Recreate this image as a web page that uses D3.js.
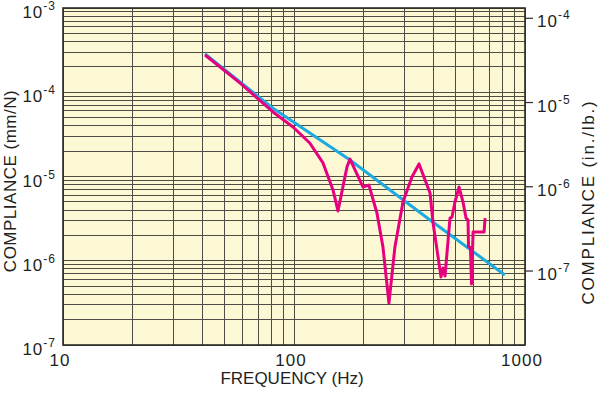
<!DOCTYPE html>
<html>
<head>
<meta charset="utf-8">
<script src="https://cdn.jsdelivr.net/npm/d3@7"></script>
<style>
  body { margin: 0; background: #fff; }
  text { font-family: "Liberation Sans", Arial, sans-serif; fill: #231f20; }
</style>
</head>
<body>
<svg class="chart"></svg>
<script>
// measured response (magenta)
var measFreq = [41.2, 58.3, 81.1, 99, 117, 133.5, 147.5, 155, 169.6, 174.8, 199, 211, 228.6, 242.7,
                257.6, 273.5, 296.3, 324, 347.7, 388, 400, 432.9, 441.6, 450.6, 473.5, 483, 497.6,
                518, 539, 555.6, 566.7, 569.6, 580.7, 586.6, 596, 665, 671.6];
var measComp = [2.77e-4, 1.29e-4, 5.83e-5, 3.87e-5, 2.50e-5, 1.45e-5, 6.92e-6, 3.90e-6, 1.30e-5, 1.61e-5,
                7.5e-6, 7.9e-6, 3.69e-6, 1.46e-6, 3.15e-7, 1.46e-6, 4.98e-6, 9.86e-6, 1.41e-5, 6.37e-6,
                2.81e-6, 6.41e-7, 8.2e-7, 6.59e-7, 3.21e-6, 3.30e-6, 4.98e-6, 7.5e-6, 4.98e-6, 3.21e-6,
                3.05e-6, 1.46e-6, 1.43e-6, 5.3e-7, 2.19e-6, 2.19e-6, 3.21e-6];

// ideal mass line (blue)
var massFreq = [41.2, 81.1, 174.8, 388, 818];
var massComp = [2.85e-4, 6.45e-5, 1.57e-5, 3.05e-6, 6.78e-7];

var freqTicks = [10, 100, 1000];
var leftExp = [-3, -4, -5, -6, -7];
var rightExp = [-4, -5, -6, -7];
var mmPerNPerInLb = 7.55;   // as printed on the right axis

var width = 600,
    height = 395;
var plotL = 63, plotR = 525, plotT = 8, plotB = 345;

var x = d3.scaleLog()
    .domain([10, 1000])
    .range([plotL, plotR]);

var y = d3.scaleLog()
    .domain([1e-7, 1e-3])
    .range([plotB, plotT]);

var y2 = d3.scaleLog()
    .domain([1e-7 / mmPerNPerInLb, 1e-3 / mmPerNPerInLb])
    .range([plotB, plotT]);

var chart = d3.select(".chart")
    .attr("width", width)
    .attr("height", height);

chart.append("rect")
    .attr("x", plotL)
    .attr("y", plotT)
    .attr("width", plotR - plotL)
    .attr("height", plotB - plotT)
    .attr("fill", "#fdf8d4");

// grid
var grid = chart.append("g")
    .attr("stroke", "#4e4d45")
    .attr("stroke-width", 1)
    .attr("shape-rendering", "crispEdges");

grid.selectAll(".vg")
    .data(x.ticks())
    .enter()
    .append("line")
      .attr("class", "vg")
      .attr("x1", function(d){ return x(d); })
      .attr("x2", function(d){ return x(d); })
      .attr("y1", plotT)
      .attr("y2", plotB);

grid.selectAll(".hg")
    .data(y.ticks())
    .enter()
    .append("line")
      .attr("class", "hg")
      .attr("y1", function(d){ return y(d); })
      .attr("y2", function(d){ return y(d); })
      .attr("x1", plotL)
      .attr("x2", plotR);

chart.append("rect")
    .attr("x", plotL)
    .attr("y", plotT)
    .attr("width", plotR - plotL)
    .attr("height", plotB - plotT)
    .attr("fill", "none")
    .attr("stroke", "#2b2b28")
    .attr("stroke-width", 1.6);

// curves
var line = d3.line()
    .x(function(d){ return x(d[0]); })
    .y(function(d){ return y(d[1]); });

chart.append("path")
    .datum(d3.zip(massFreq, massComp))
    .attr("d", line)
    .attr("fill", "none")
    .attr("stroke", "#1ea9e1")
    .attr("stroke-width", 3);

chart.append("path")
    .datum(d3.zip(measFreq, measComp))
    .attr("d", line)
    .attr("fill", "none")
    .attr("stroke", "#e6007e")
    .attr("stroke-width", 3)
    .attr("stroke-linejoin", "round");

// left tick labels
var lt = chart.append("g").selectAll("text")
    .data(leftExp)
    .enter()
    .append("text")
      .attr("text-anchor", "end")
      .attr("x", plotL - 7)
      .attr("y", function(d){ return y(Math.pow(10, d)) + 10; })
      .style("font-size", "17px")
      .style("letter-spacing", "1px");
lt.append("tspan").text("10");
lt.append("tspan")
    .attr("dy", -8)
    .style("font-size", "12px")
    .text(function(d){ return d; });

// right ticks
chart.append("g").selectAll("line")
    .data(rightExp)
    .enter()
    .append("line")
      .attr("x1", plotR)
      .attr("x2", plotR + 8)
      .attr("y1", function(d){ return y2(Math.pow(10, d)); })
      .attr("y2", function(d){ return y2(Math.pow(10, d)); })
      .attr("stroke", "#2b2b28")
      .attr("stroke-width", 1.2);

var rt = chart.append("g").selectAll("text")
    .data(rightExp)
    .enter()
    .append("text")
      .attr("x", plotR + 12)
      .attr("y", function(d){ return y2(Math.pow(10, d)) + 9; })
      .style("font-size", "17px")
      .style("letter-spacing", "1px");
rt.append("tspan").text("10");
rt.append("tspan")
    .attr("dy", -8)
    .style("font-size", "12px")
    .text(function(d){ return d; });

// bottom tick labels
chart.append("g").selectAll("text")
    .data(freqTicks)
    .enter()
    .append("text")
      .attr("text-anchor", "middle")
      .attr("x", function(d){ return x(d) - 3; })
      .attr("y", 366)
      .style("font-size", "17px")
      .style("letter-spacing", "1px")
      .text(function(d){ return d; });

// axis titles
chart.append("text")
    .attr("text-anchor", "middle")
    .attr("x", 292)
    .attr("y", 384)
    .style("font-size", "17px")
    .text("FREQUENCY (Hz)");

chart.append("text")
    .attr("text-anchor", "middle")
    .attr("transform", "translate(16,181) rotate(-90)")
    .style("font-size", "17px")
    .style("letter-spacing", "0.5px")
    .text("COMPLIANCE (mm/N)");

chart.append("text")
    .attr("text-anchor", "middle")
    .attr("transform", "translate(594,202) rotate(-90)")
    .style("font-size", "17px")
    .style("letter-spacing", "1.8px")
    .text("COMPLIANCE (in./lb.)");
</script>
</body>
</html>
